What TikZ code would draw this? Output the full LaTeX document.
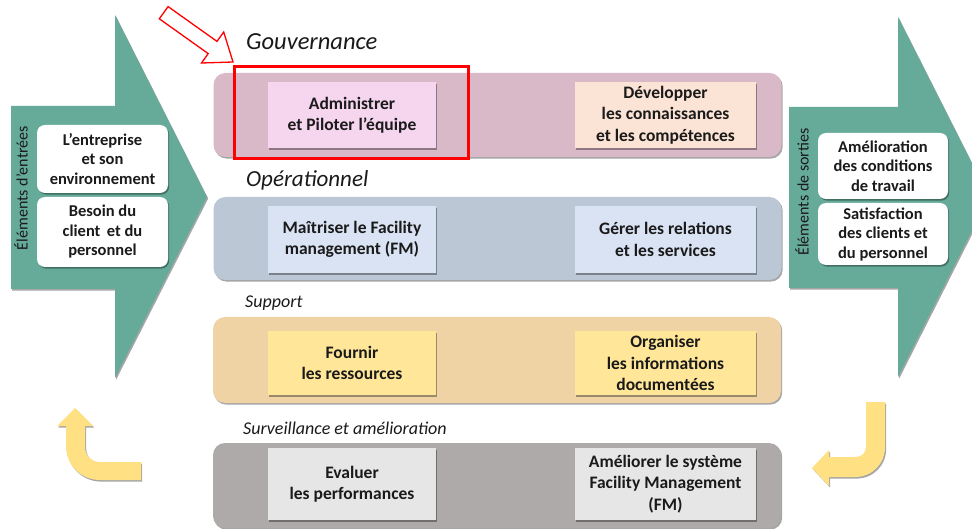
\documentclass[tikz,border=0pt]{standalone}
\usepackage{fontspec}
\setmainfont{Carlito}
\usetikzlibrary{shadows}
\definecolor{teal1}{HTML}{66AB9A}
\definecolor{pinkband}{HTML}{D9B8C7}
\definecolor{pinkbox}{HTML}{F6D5EF}
\definecolor{peachbox}{HTML}{FBE3D6}
\definecolor{blueband}{HTML}{BCC7D6}
\definecolor{bluebox}{HTML}{DAE3F3}
\definecolor{orangeband}{HTML}{EFD3A5}
\definecolor{yellowbox}{HTML}{FFE699}
\definecolor{grayband}{HTML}{AEAAA9}
\definecolor{graybox}{HTML}{E7E6E6}
\definecolor{yarrow}{HTML}{FFE083}
\definecolor{txt}{HTML}{1A1A1A}
\tikzset{
  shad/.style={drop shadow={shadow xshift=1.2pt,shadow yshift=-1.6pt,opacity=0.35,fill=black}},
  band/.style={shad,rounded corners=12pt,minimum width=568pt,inner sep=0pt},
  inbox/.style={shad,align=center,inner sep=0pt,text=txt,font=\bfseries\fontsize{17.5}{21.5}\selectfont},
  wbox/.style={shad,fill=white,rounded corners=8pt,align=center,inner sep=0pt,minimum width=131pt,
    text=txt,font=\bfseries\fontsize{16.5}{19.5}\selectfont},
  lvl/.style={font=\itshape,inner sep=0pt,text=txt},
  vlabel/.style={rotate=90,inner sep=0pt,text=txt,font=\fontsize{16}{18}\selectfont},
}
\begin{document}
\begin{tikzpicture}[x=1pt,y=-1pt]
\useasboundingbox (0,0) rectangle (972,529);
\clip (0,0) rectangle (972,529);
% teal arrows
\path[fill=teal1,shad] (11,106) -- (115,106) -- (115,15) -- (207,197) -- (115,378) -- (115,289) -- (11,289) -- cycle;
\path[fill=teal1,shad] (789,107) -- (898,107) -- (898,17) -- (989,197) -- (898,377) -- (898,288) -- (789,288) -- cycle;
\node[vlabel] (lin) at (21,188) {Éléments d'entrées};
\node[vlabel] (lout) at (802,192) {Éléments de sorties};
% white boxes
\node[wbox,minimum height=68pt] (e1) at (102.5,159) {L’entreprise\\ et son\\environnement};
\node[wbox,minimum height=70pt] (e2) at (102.5,232) {Besoin du\\client\, et du\\personnel};
\node[wbox,minimum width=130pt,minimum height=66pt] (s1) at (883,166) {Amélioration\\des conditions\\de travail};
\node[wbox,minimum width=130pt,minimum height=62pt] (s2) at (883,234) {Satisfaction\\des clients et\\du personnel};
% bands
\node[band,fill=pinkband,minimum height=84pt] (b1) at (497.5,115) {};
\node[band,fill=blueband,minimum height=83pt] (b2) at (497.5,238.5) {};
\node[band,fill=orangeband,minimum height=86pt] (b3) at (497,360) {};
\node[band,fill=grayband,minimum height=85pt] (b4) at (497,485.5) {};
% level labels
\node[lvl,font=\itshape\fontsize{24.5}{26}\selectfont,anchor=west] (g) at (246,42) {Gouvernance};
\node[lvl,font=\itshape\fontsize{23}{26}\selectfont,anchor=west] (o) at (246,180) {Opérationnel};
\node[lvl,font=\itshape\fontsize{18}{20}\selectfont,anchor=west] (su) at (245,303) {Support};
\node[lvl,font=\itshape\fontsize{18}{20}\selectfont,anchor=west] (sa) at (243,428) {Surveillance et amélioration};
% inner boxes
\node[inbox,fill=pinkbox,minimum width=168pt,minimum height=66pt] (p1) at (352,115) {Administrer\\et Piloter l’équipe};
\node[inbox,fill=peachbox,minimum width=181pt,minimum height=66pt] (p2) at (665.5,115) {Développer\\les connaissances\\et les compétences};
\node[inbox,fill=bluebox,minimum width=168pt,minimum height=67pt] (o1) at (352,239.5) {Maîtriser le Facility\\management (FM)};
\node[inbox,fill=bluebox,minimum width=181pt,minimum height=67pt] (o2) at (665.5,239.5) {Gérer les relations\\et les services};
\node[inbox,fill=yellowbox,minimum width=168pt,minimum height=64pt] (f1) at (352,363) {Fournir\\les ressources};
\node[inbox,fill=yellowbox,minimum width=181pt,minimum height=64pt] (f2) at (665.5,363) {Organiser\\les informations\\documentées};
\node[inbox,fill=graybox,minimum width=168pt,minimum height=72pt] (v1) at (352,484) {Evaluer\\les performances};
\node[inbox,fill=graybox,minimum width=181pt,minimum height=72pt] (v2) at (665.5,484) {Améliorer le système\\Facility Management\\(FM)};
% red highlight
\draw[red,line width=3pt] (234,67) rectangle (468,159);
\draw[red,line width=1.3pt,fill=white,line join=miter] (159.3,18.8) -- (208.2,53.6) -- (201.5,63.0) -- (233,62) -- (223.7,32.0) -- (217.0,41.4) -- (168.1,6.6) -- cycle;
% yellow loop arrows
\path[fill=yarrow,shad] (141,462) -- (100,462) .. controls (92,462) and (85,456) .. (85,447) -- (85,426) -- (93,426) -- (75,408) -- (57,426) -- (66,426) -- (66,446) .. controls (66,465) and (81,480) .. (100,480) -- (141,480) -- cycle;
\path[fill=yarrow,shad] (866,402) -- (885,402) -- (885,447) .. controls (885,464) and (872,477) .. (855,477) -- (829,477) -- (829,486) -- (812,468) -- (829,450) -- (829,457) -- (855,457) .. controls (862,457) and (866,453) .. (866,446) -- cycle;
\end{tikzpicture}
\end{document}
